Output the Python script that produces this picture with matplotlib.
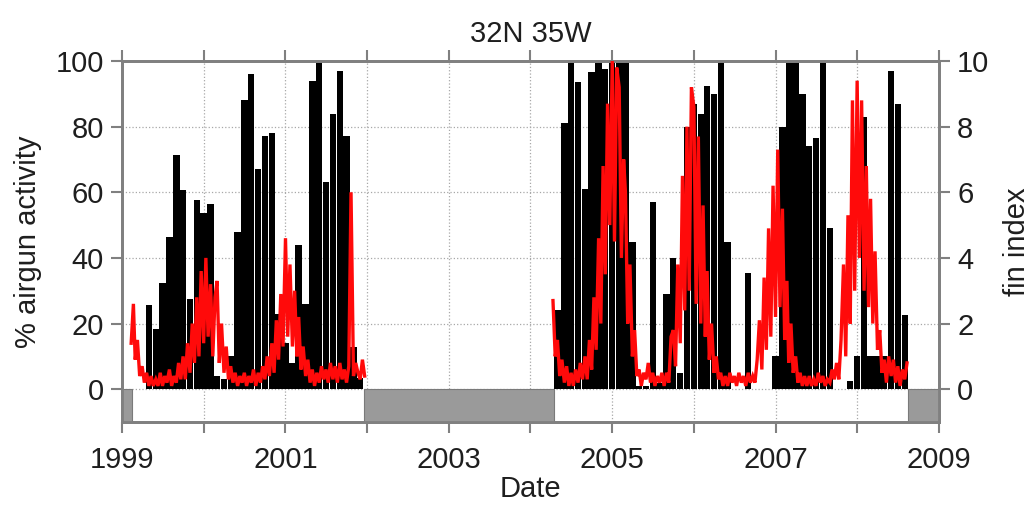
import numpy as np
import pandas as pd
import matplotlib
matplotlib.use("Agg")
import matplotlib.pyplot as plt
import matplotlib.dates as mdates
from matplotlib.ticker import FuncFormatter

plt.rcParams['font.family'] = ['Liberation Sans', 'DejaVu Sans']

# ---------------- data ----------------
# monthly % airgun activity (bars), Jan..Dec of each year
airgun_1999 = [0, 0, 0, 0, 25.5, 18.4, 32.5, 46.3, 71.3, 60.6, 27.5, 57.7]
airgun_2000 = [53.6, 56.5, 4, 3, 10, 47.8, 88, 96, 67, 77, 78, 23]
airgun_2001 = [14, 8, 44, 26, 94, 100, 63, 84, 97, 77, 13, 3.5]
airgun_2002 = [0] * 12
airgun_2003 = [0] * 12
airgun_2004 = [0, 0, 0, 0, 24, 81, 99.5, 93.5, 61, 96.5, 99.5, 97.5]
airgun_2005 = [100, 100, 100, 45, 1, 1, 57, 2, 29, 40, 5, 80]
airgun_2006 = [87, 84, 92.5, 90, 100, 45, 0, 0, 35.5, 0, 0, 0]
airgun_2007 = [10, 80, 100, 100, 90, 74, 76.5, 100, 49, 0, 0, 2.5]
airgun_2008 = [10, 83, 10, 10, 10, 97, 87, 22.5, 0, 0, 0, 0]

# fin index (red line), sampled on the 1st, 11th and 21st of each month
fin_1999_2001 = [
    1.4, 2.6,            # Feb 1999 (11, 21)
    0.9, 1.5, 0.4,       # Mar
    0.7, 0.2, 0.5,       # Apr
    0.1, 0.4, 0.1,       # May
    0.3, 0.1, 0.5,       # Jun
    0.1, 0.4, 0.2,       # Jul
    0.6, 0.1, 0.4,       # Aug
    0.2, 0.8, 0.3,       # Sep
    1.0, 0.3, 1.4,       # Oct
    0.5, 2.0, 0.8,       # Nov
    2.8, 1.0, 3.6,       # Dec
    1.4, 4.0, 1.6,       # Jan 2000
    3.2, 1.0, 2.8,       # Feb
    3.3, 0.8, 2.0,       # Mar
    0.5, 1.3, 0.3,       # Apr
    0.7, 0.2, 0.5,       # May
    0.1, 0.4, 0.2,       # Jun
    0.5, 0.1, 0.4,       # Jul
    0.2, 0.6, 0.1,       # Aug
    0.5, 0.2, 0.7,       # Sep
    0.3, 1.0, 0.4,       # Oct
    1.4, 0.5, 2.1,       # Nov
    0.9, 2.9, 1.3,       # Dec
    4.6, 1.6, 3.8,       # Jan 2001
    1.3, 3.0, 1.0,       # Feb
    2.2, 0.6, 1.3,       # Mar
    0.4, 0.9, 0.2,       # Apr
    0.6, 0.1, 0.5,       # May
    0.2, 0.7, 0.3,       # Jun
    0.6, 0.2, 0.8,       # Jul
    0.3, 0.7, 0.2,       # Aug
    0.8, 0.3, 0.6,       # Sep
    0.2, 0.7, 6.0,       # Oct
    0.4, 0.8, 0.5,       # Nov
    0.3, 0.9, 0.4,       # Dec
]
fin_2004_2008 = [
    2.7, 1.0,            # Apr 2004 (11, 21)
    1.5, 0.4, 0.9,       # May
    0.2, 0.7, 0.1,       # Jun
    0.5, 0.1, 0.6,       # Jul
    0.2, 0.8, 0.3,       # Aug
    1.0, 0.3, 1.5,       # Sep
    0.6, 2.8, 1.2,       # Oct
    4.6, 2.0, 6.8,       # Nov
    3.5, 8.7, 5.0,       # Dec
    10.0, 4.5, 9.8,      # Jan 2005
    9.2, 4.0, 7.0,       # Feb
    6.0, 2.0, 3.8,       # Mar
    1.0, 1.8, 0.4,       # Apr
    0.6, 0.1, 0.5,       # May
    0.3, 0.8, 0.2,       # Jun
    0.5, 0.1, 0.4,       # Jul
    0.2, 0.5, 0.1,       # Aug
    0.5, 0.2, 1.6,       # Sep
    1.8, 0.7, 3.8,       # Oct
    1.4, 6.5, 2.4,       # Nov
    8.0, 3.0, 9.2,       # Dec
    8.6, 2.6, 7.7,       # Jan 2006
    2.0, 5.6, 1.6,       # Feb
    3.6, 0.9, 2.0,       # Mar
    0.5, 1.0, 0.3,       # Apr
    0.5, 0.1, 0.4,       # May
    0.1, 0.5, 0.2,       # Jun
    0.4, 0.1, 0.5,       # Jul
    0.2, 0.4, 0.1,       # Aug
    0.5, 0.2, 0.4,       # Sep
    0.2, 0.9, 2.1,       # Oct
    0.6, 3.4, 1.2,       # Nov
    4.9, 1.6, 6.2,       # Dec
    2.2, 7.3, 2.5,       # Jan 2007
    5.5, 1.5, 3.3,       # Feb
    0.8, 2.0, 0.5,       # Mar
    1.0, 0.2, 0.5,       # Apr
    0.1, 0.4, 0.1,       # May
    0.4, 0.1, 0.3,       # Jun
    0.1, 0.5, 0.2,       # Jul
    0.4, 0.1, 0.3,       # Aug
    0.2, 0.6, 0.3,       # Sep
    0.8, 0.3, 1.5,       # Oct
    3.8, 1.0, 5.3,       # Nov
    2.0, 8.8, 3.0,       # Dec
    9.4, 4.0, 8.8,       # Jan 2008
    3.0, 6.8, 2.5,       # Feb
    5.8, 2.0, 4.2,       # Mar
    1.2, 1.8, 0.5,       # Apr
    0.9, 0.2, 1.0,       # May
    0.4, 0.9, 0.2,       # Jun
    0.7, 0.1, 0.6,       # Jul
    0.3, 0.8,            # Aug (1, 11)
]

# periods without recordings (grey boxes below zero)
gap_start = ['1999-01-01', '2001-12-18', '2008-08-16']
gap_end = ['1999-02-13', '2004-04-14', '2009-01-01']

x_tick_labels = ['1999', '2001', '2003', '2005', '2007', '2009']

title = '32N 35W'
xlabel = 'Date'
ylabel_left = '% airgun activity'
ylabel_right = 'fin index'

# ---------------- build ----------------
months = pd.date_range('1999-01-01', '2008-12-01', freq='MS')
airgun = np.concatenate([airgun_1999, airgun_2000, airgun_2001, airgun_2002,
                         airgun_2003, airgun_2004, airgun_2005, airgun_2006,
                         airgun_2007, airgun_2008])


def dekads(start, end):
    ms = pd.date_range(start, end, freq='MS')
    return [m + pd.Timedelta(days=d) for m in ms for d in (0, 10, 20)]


dates1 = dekads('1999-02-01', '2001-12-01')[1:]
dates2 = dekads('2004-04-01', '2008-08-01')[1:-1]
n1 = min(len(dates1), len(fin_1999_2001))
n2 = min(len(dates2), len(fin_2004_2008))

W, H = 1030, 507
fig = plt.figure(figsize=(W / 100, H / 100), dpi=100)
ax = fig.add_axes([122 / W, 1 - 422 / H, (939 - 122) / W, (422 - 61) / H])

spine_col = '#808080'
txt_col = '#1e1e1e'
FS = 21

ax.bar(months, airgun, width=28.5, color='black', align='center', zorder=2, linewidth=0)

for s, e in zip(gap_start, gap_end):
    ax.fill_between([pd.Timestamp(s), pd.Timestamp(e)], -10, 0,
                    color='#9a9a9a', edgecolor='#7a7a7a', linewidth=0.8, zorder=3)

ax.set_xlim(pd.Timestamp('1999-01-01'), pd.Timestamp('2009-01-01'))
ax.set_ylim(-10, 100)
ax.set_yticks([0, 20, 40, 60, 80, 100])

ax.xaxis.set_major_locator(mdates.YearLocator(1))
ax.xaxis.set_major_formatter(FuncFormatter(
    lambda v, p: str(mdates.num2date(v).year) if str(mdates.num2date(v).year) in x_tick_labels else ''))

ax.grid(True, linestyle=':', color='#a8a8a8', linewidth=0.9)
ax.set_axisbelow(True)

for sp in ax.spines.values():
    sp.set_color(spine_col)
    sp.set_linewidth(2)
ax.tick_params(axis='both', direction='out', length=8, width=1.5, color=spine_col,
               labelsize=FS, labelcolor=txt_col, top=True)
ax.tick_params(axis='x', pad=9)
ax.tick_params(axis='y', pad=5)

ax2 = ax.twinx()
for d, v in ((dates1[:n1], fin_1999_2001[:n1]), (dates2[:n2], fin_2004_2008[:n2])):
    ax2.plot(d, v, color='#ff0a0a', linewidth=2.4, zorder=4, solid_joinstyle='miter')
ax2.set_ylim(-1, 10)
ax2.set_yticks([0, 2, 4, 6, 8, 10])
for sp in ax2.spines.values():
    sp.set_color(spine_col)
    sp.set_linewidth(2)
ax2.tick_params(axis='y', direction='out', length=8, width=1.5, color=spine_col,
                labelsize=FS, labelcolor=txt_col, pad=5)

ax.set_title(title, fontsize=FS, color=txt_col, pad=14)
ax.set_xlabel(xlabel, fontsize=FS, color=txt_col, labelpad=1)
ax.set_ylabel(ylabel_left, fontsize=FS, color=txt_col, labelpad=10)
ax2.set_ylabel(ylabel_right, fontsize=FS, color=txt_col, labelpad=10)

fig.savefig('out.png', dpi=100, facecolor='white')
